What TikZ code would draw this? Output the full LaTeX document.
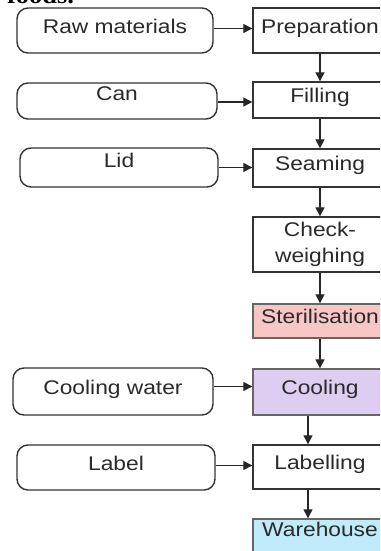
\documentclass[tikz,border=0pt]{standalone}
\usepackage{fontspec}
\setmainfont[FakeStretch=1.15]{Liberation Sans}
\newfontfamily\headfont[FakeStretch=1.1]{Liberation Serif}
\usetikzlibrary{arrows.meta,calc}
\definecolor{txt}{HTML}{2A2A2A}
\definecolor{edge}{HTML}{333333}
\definecolor{sterfill}{HTML}{F9C6C6}
\definecolor{coolfill}{HTML}{DDCDF0}
\definecolor{warefill}{HTML}{BFEBFA}
\begin{document}
\begin{tikzpicture}[x=1pt,y=-1pt,
  lbl/.style={font=\fontsize{19.8pt}{25.5pt}\selectfont, text=txt, text height=0.72em, text depth=0.21em, inner sep=0pt, align=center},
  inbox/.style={lbl, draw=edge, line width=1.4pt, rounded corners=11pt, minimum width=198pt},
  stepbox/.style={lbl, draw=edge, line width=1.4pt, minimum width=134pt},
  flow/.style={draw=black!85, line width=1.3pt, -{Triangle[length=9pt,width=9pt]}}]
\useasboundingbox (0,0) rectangle (380,551);
\clip (0,0) rectangle (380,551);
\fill[white] (0,0) rectangle (380,551);
\node[font=\headfont\bfseries\fontsize{24pt}{28pt}\selectfont, anchor=base west, inner sep=0pt] (head) at (7,3.5) {foods.};
% inputs
\node[inbox, minimum width=196pt, minimum height=45pt] (raw) at (115,30.5) {Raw materials};
\node[inbox, minimum width=200pt, minimum height=36pt] (can) at (117,101) {\raisebox{3pt}{Can}};
\node[inbox, minimum width=198pt, minimum height=39pt] (lid) at (119,167.5) {\raisebox{3pt}{Lid}};
\node[inbox, minimum width=200pt, minimum height=47pt] (cw) at (113,391.5) {Cooling water};
\node[inbox, minimum width=198pt, minimum height=45pt] (lab) at (116,467.5) {Label};
% process steps
\node[stepbox, minimum height=45pt] (prep) at (320,30.5) {Preparation};
\node[stepbox, minimum height=36pt] (fill) at (320,100) {Filling};
\node[stepbox, minimum height=38pt] (seam) at (320,168) {Seaming};
\node[stepbox, minimum height=55pt, text height={}, text depth={}] (check) at (320,244.5) {Check-\\weighing};
\node[stepbox, minimum height=34pt, fill=sterfill, draw=black!60] (ster) at (320,321) {Sterilisation};
\node[stepbox, minimum height=46pt, fill=coolfill, draw=black!60] (cool) at (320,392) {Cooling};
\node[stepbox, minimum height=44pt] (labl) at (320,467) {Labelling};
\node[stepbox, minimum height=46pt, fill=warefill, draw=black!60] (ware) at (320,542) {\raisebox{8pt}{Warehouse}};
% horizontal arrows
\draw[flow] ([yshift=2pt]raw.east) -- ([yshift=2pt]raw.east -| prep.west);
\draw[flow] ([yshift=-1pt]can.east) -- ([yshift=-1pt]can.east -| fill.west);
\draw[flow] (lid.east) -- (lid.east -| seam.west);
\draw[flow] ([yshift=5pt]cw.east) -- ([yshift=5pt]cw.east -| cool.west);
\draw[flow] ([yshift=2pt]lab.east) -- ([yshift=2pt]lab.east -| labl.west);
% vertical arrows
\draw[flow] (prep) -- (fill);
\draw[flow] (fill) -- (seam);
\draw[flow] (seam) -- (check);
\draw[flow] (check) -- (ster);
\draw[flow] (ster) -- (cool);
\draw[flow] ([xshift=-12pt]cool.south) -- ([xshift=-12pt]labl.north);
\draw[flow] ([xshift=-12pt]labl.south) -- ([xshift=-12pt]ware.north);
\end{tikzpicture}
\end{document}
